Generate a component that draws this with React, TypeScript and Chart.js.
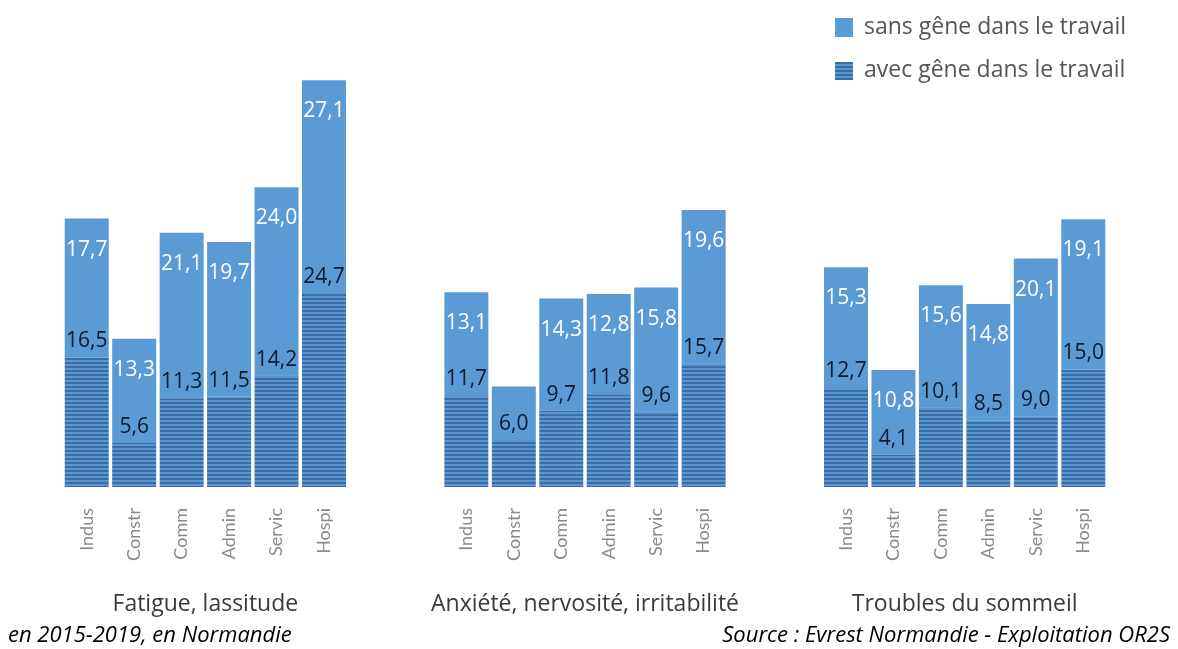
import React, { useEffect, useRef } from "react";
import { Chart, registerables } from "chart.js";

Chart.register(...registerables);

const sectors = ["Indus", "Constr", "Comm", "Admin", "Servic", "Hospi"];
const groupTitles = ["Fatigue, lassitude", "Anxiété, nervosité, irritabilité", "Troubles du sommeil"];

const avecFatigue = [16.5, 5.6, 11.3, 11.5, 14.2, 24.7];
const sansFatigue = [17.7, 13.3, 21.1, 19.7, 24.0, 27.1];
const avecAnxiete = [11.7, 6.0, 9.7, 11.8, 9.6, 15.7];
const sansAnxiete = [13.1, 6.8, 14.3, 12.8, 15.8, 19.6];
const sansAnxieteShown = [true, false, true, true, true, true];
const avecSommeil = [12.7, 4.1, 10.1, 8.5, 9.0, 15.0];
const sansSommeil = [15.3, 10.8, 15.6, 14.8, 20.1, 19.1];

const legendLabels = ["sans gêne dans le travail", "avec gêne dans le travail"];
const footLeft = "en 2015-2019, en Normandie";
const footRight = "Source : Evrest Normandie - Exploitation OR2S";

const GAP = 2;
const BLUE = "#5b9bd5";
const STRIPE = "#3a6ea8";

function withGaps(groups: any[][]): any[] {
  const out: any[] = [];
  groups.forEach((g, i) => {
    out.push(...g);
    if (i < groups.length - 1) for (let k = 0; k < GAP; k++) out.push(null);
  });
  return out;
}

const labelsClean = withGaps([sectors, sectors, sectors]).map((l) => (l === null ? "" : l));
const avecData = withGaps([avecFatigue, avecAnxiete, avecSommeil]);
const sansData = withGaps([sansFatigue, sansAnxiete, sansSommeil]);
const sansShown = withGaps([
  sansFatigue.map(() => 1),
  sansAnxieteShown.map((s) => (s ? 1 : 0)),
  sansSommeil.map(() => 1),
]);

function makePattern(ctx: CanvasRenderingContext2D): CanvasPattern | string {
  const c = document.createElement("canvas");
  c.width = 4;
  c.height = 4;
  const p = c.getContext("2d");
  if (!p) return BLUE;
  p.fillStyle = "#5a95d0";
  p.fillRect(0, 0, 4, 4);
  p.fillStyle = STRIPE;
  p.fillRect(0, 2, 4, 2);
  return ctx.createPattern(c, "repeat") || BLUE;
}

const fmt = (v: number) => v.toFixed(1).replace(".", ",");

export default function App() {
  const ref = useRef<HTMLCanvasElement>(null);
  useEffect(() => {
    const canvas = ref.current;
    if (!canvas) return;
    const ctx = canvas.getContext("2d")!;
    const pattern = makePattern(ctx);

    const overlay = {
      id: "overlay",
      afterDatasetsDraw(chart: any) {
        const c = chart.ctx;
        c.save();
        c.textAlign = "center";
        c.textBaseline = "middle";
        c.font = "21px 'Open Sans', sans-serif";
        const m0 = chart.getDatasetMeta(0);
        const m1 = chart.getDatasetMeta(1);
        avecData.forEach((v, i) => {
          if (v === null) return;
          const el = m0.data[i];
          c.fillStyle = "#0e1a2b";
          c.fillText(fmt(v), el.x, el.y - 16);
        });
        sansData.forEach((v, i) => {
          if (v === null || !sansShown[i]) return;
          const el = m1.data[i];
          c.fillStyle = "#ffffff";
          c.fillText(fmt(v), el.x, el.y + 31);
        });
        // group titles
        const xs = chart.scales.x;
        c.fillStyle = "#3a3a3a";
        c.font = "23px 'Open Sans', sans-serif";
        groupTitles.forEach((t, g) => {
          const start = g * (sectors.length + GAP);
          const x0 = xs.getPixelForValue(start);
          const x1 = xs.getPixelForValue(start + sectors.length - 1);
          c.fillText(t, (x0 + x1) / 2, 604);
        });
        // footer
        c.fillStyle = "#000";
        c.font = "italic 22px 'Open Sans', sans-serif";
        c.textAlign = "left";
        c.fillText(footLeft, 8, 636);
        c.textAlign = "right";
        c.fillText(footRight, 1170, 636);
        // legend
        c.textAlign = "left";
        c.font = "23px 'Open Sans', sans-serif";
        c.fillStyle = BLUE;
        c.fillRect(835, 18, 18, 19);
        c.fillStyle = pattern as any;
        c.fillRect(835, 62, 18, 18);
        c.fillStyle = "#555";
        c.fillText(legendLabels[0], 864, 27);
        c.fillText(legendLabels[1], 864, 70);
        c.restore();
      },
    };

    const chart = new Chart(ctx, {
      type: "bar",
      data: {
        labels: labelsClean,
        datasets: [
          {
            label: legendLabels[1],
            data: avecData as any,
            backgroundColor: pattern as any,
            borderWidth: 0,
            barPercentage: 0.927,
            categoryPercentage: 1,
          },
          {
            label: legendLabels[0],
            data: sansData as any,
            backgroundColor: BLUE,
            borderWidth: 0,
            barPercentage: 0.927,
            categoryPercentage: 1,
          },
        ],
      },
      options: {
        responsive: false,
        animation: false,
        layout: { padding: { left: 63, right: 71, top: 16, bottom: 0 } },
        plugins: { legend: { display: false }, tooltip: { enabled: false } },
        scales: {
          x: {
            stacked: true,
            grid: { display: false },
            border: { display: false },
            ticks: {
              autoSkip: false,
              minRotation: 90,
              maxRotation: 90,
              padding: 13,
              color: "#8a8a8a",
              font: { family: "Lato, sans-serif", size: 18 },
            },
            afterFit(scale: any) {
              scale.height = 162;
            },
          },
          y: {
            stacked: true,
            display: false,
            min: 0,
            max: 60,
          },
        },
      },
      plugins: [overlay],
    });
    return () => chart.destroy();
  }, []);

  return (
    <div style={{ position: "fixed", left: 0, top: 0, width: 1178, height: 649, background: "#fff" }}>
      <canvas ref={ref} width={1178} height={649} />
    </div>
  );
}
